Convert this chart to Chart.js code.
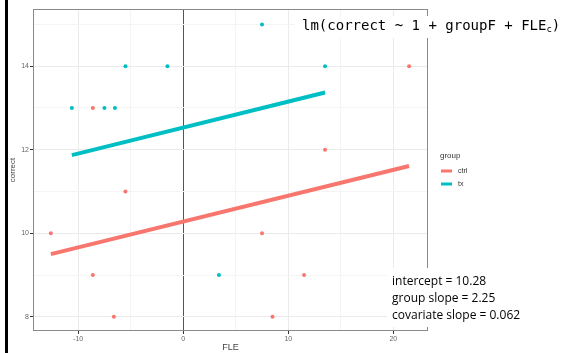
<!DOCTYPE html>
<html lang="en">
<head>
<meta charset="UTF-8">
<title>correct vs FLE</title>
<script src="https://cdn.jsdelivr.net/npm/chart.js"></script>
<style>
  html, body { margin: 0; padding: 0; background: #fff; }
  #wrap { position: relative; width: 564px; height: 353px; }
</style>
</head>
<body>
<div id="wrap"><canvas id="c"></canvas></div>
<script>
  // data
  const groups = ['ctrl', 'tx'];
  const ctrlFLE = [-8.6, -12.6, -5.5, -8.6, -6.6, 7.5, 11.5, 8.5, 13.5, 21.5];
  const ctrlCorrect = [13, 10, 11, 9, 8, 10, 9, 8, 12, 14];
  const txFLE = [-10.6, -7.5, -6.5, -5.5, -1.5, 7.5, 13.5, 3.4];
  const txCorrect = [13, 13, 13, 14, 14, 15, 14, 9];
  // fitted lines, ends
  const ctrlFitFLE = [-12.6, 21.5];
  const ctrlFitCorrect = [9.50, 11.61];
  const txFitFLE = [-10.6, 13.5];
  const txFitCorrect = [11.87, 13.37];

  const xTicks = [-10, -5, 0, 5, 10, 15, 20];
  const xLabels = [-10, 0, 10, 20];
  const yTicks = [8, 9, 10, 11, 12, 13, 14, 15];
  const yLabels = [8, 10, 12, 14];

  const formula = 'lm(correct ~ 1 + groupF + FLE';
  const stats = ['intercept = 10.28', 'group slope = 2.25', 'covariate slope = 0.062'];

  const RED = '#F8766D';
  const CYAN = '#00BFC4';

  const pts = (xs, ys) => xs.map((x, i) => ({ x: x, y: ys[i] }));

  const extras = {
    id: 'extras',
    afterDraw(chart) {
      const ctx = chart.ctx;
      const a = chart.chartArea;
      ctx.save();
      // panel border
      ctx.strokeStyle = '#8a8a8a';
      ctx.lineWidth = 1;
      ctx.strokeRect(a.left + 0.5, a.top + 0.5, a.right - a.left - 1, a.bottom - a.top - 1);

      // black bar at the left edge
      ctx.fillStyle = '#000';
      ctx.fillRect(5, 0, 3, 353);

      // legend
      ctx.fillStyle = '#333';
      ctx.font = '8px "Liberation Sans", Arial, sans-serif';
      ctx.textBaseline = 'middle';
      ctx.fillText('group', 440, 156);
      [RED, CYAN].forEach((col, i) => {
        const y = 171 + i * 13;
        ctx.fillStyle = col;
        ctx.fillRect(441, y - 1.5, 11, 3);
        ctx.fillStyle = '#333';
        ctx.font = '7px "Liberation Sans", Arial, sans-serif';
        ctx.fillText(groups[i], 458, y);
      });

      // formula box
      ctx.fillStyle = '#fff';
      ctx.fillRect(295, 16, 269, 22);
      ctx.fillStyle = '#000';
      ctx.font = '14px "DejaVu Sans Mono", monospace';
      ctx.textBaseline = 'middle';
      ctx.fillText(formula, 302, 26);
      let w = ctx.measureText(formula).width;
      ctx.font = '9px "DejaVu Sans Mono", monospace';
      ctx.fillText('c', 302 + w, 30);
      let w2 = ctx.measureText('c').width;
      ctx.font = '14px "DejaVu Sans Mono", monospace';
      ctx.fillText(')', 302 + w + w2, 26);

      // stats box
      ctx.fillStyle = '#fff';
      ctx.fillRect(387, 268, 177, 59);
      ctx.fillStyle = '#000';
      ctx.font = '12px "Open Sans", sans-serif';
      stats.forEach((s, i) => ctx.fillText(s, 392, 282 + i * 17));
      ctx.restore();
    }
  };

  const gridColor = (ctx, labels) => {
    const v = ctx.tick && ctx.tick.value;
    if (v === 0) return '#555';
    return labels.includes(v) ? '#ebebeb' : '#f4f4f4';
  };

  new Chart(document.getElementById('c'), {
    type: 'scatter',
    data: {
      datasets: [
        { label: 'ctrl pts', data: pts(ctrlFLE, ctrlCorrect), backgroundColor: RED, borderColor: RED, pointRadius: 2, borderWidth: 0 },
        { label: 'tx pts', data: pts(txFLE, txCorrect), backgroundColor: CYAN, borderColor: CYAN, pointRadius: 2, borderWidth: 0 },
        { label: 'ctrl', data: pts(ctrlFitFLE, ctrlFitCorrect), showLine: true, borderColor: RED, borderWidth: 4, pointRadius: 0 },
        { label: 'tx', data: pts(txFitFLE, txFitCorrect), showLine: true, borderColor: CYAN, borderWidth: 4, pointRadius: 0 }
      ]
    },
    options: {
      responsive: true,
      maintainAspectRatio: false,
      animation: false,
      layout: { padding: { top: 9, right: 136, left: 8, bottom: 0 } },
      plugins: { legend: { display: false }, tooltip: { enabled: false } },
      scales: {
        x: {
          type: 'linear', min: -14.3, max: 23.3,
          afterBuildTicks: s => { s.ticks = xTicks.map(v => ({ value: v })); },
          afterFit: s => { s.height = 22; },
          border: { display: false },
          grid: {
            color: c => gridColor(c, xLabels),
            lineWidth: c => (c.tick && c.tick.value === 0) ? 1 : 1,
            tickLength: 3,
            tickColor: c => xLabels.includes(c.tick.value) ? '#333' : 'rgba(0,0,0,0)'
          },
          ticks: {
            autoSkip: false, maxRotation: 0, padding: 1,
            color: '#666', font: { size: 7, family: '"Liberation Sans", Arial, sans-serif' },
            callback: v => xLabels.includes(v) ? String(v) : ''
          },
          title: { display: true, text: 'FLE', color: '#444', padding: { top: 0, bottom: 0 },
                   font: { size: 9, family: '"Liberation Sans", Arial, sans-serif' } }
        },
        y: {
          type: 'linear', min: 7.66, max: 15.37,
          afterBuildTicks: s => { s.ticks = yTicks.map(v => ({ value: v })); },
          afterFit: s => { s.width = 25; },
          border: { display: false },
          grid: {
            color: c => gridColor(c, yLabels),
            tickLength: 3,
            tickColor: c => yLabels.includes(c.tick.value) ? '#333' : 'rgba(0,0,0,0)'
          },
          ticks: {
            autoSkip: false, padding: 1,
            color: '#666', font: { size: 7, family: '"Liberation Sans", Arial, sans-serif' },
            callback: v => yLabels.includes(v) ? String(v) : ''
          },
          title: { display: true, text: 'correct', color: '#444', padding: { top: 0, bottom: 0 },
                   font: { size: 8, family: '"Liberation Sans", Arial, sans-serif' } }
        }
      }
    },
    plugins: [extras]
  });
</script>
</body>
</html>
